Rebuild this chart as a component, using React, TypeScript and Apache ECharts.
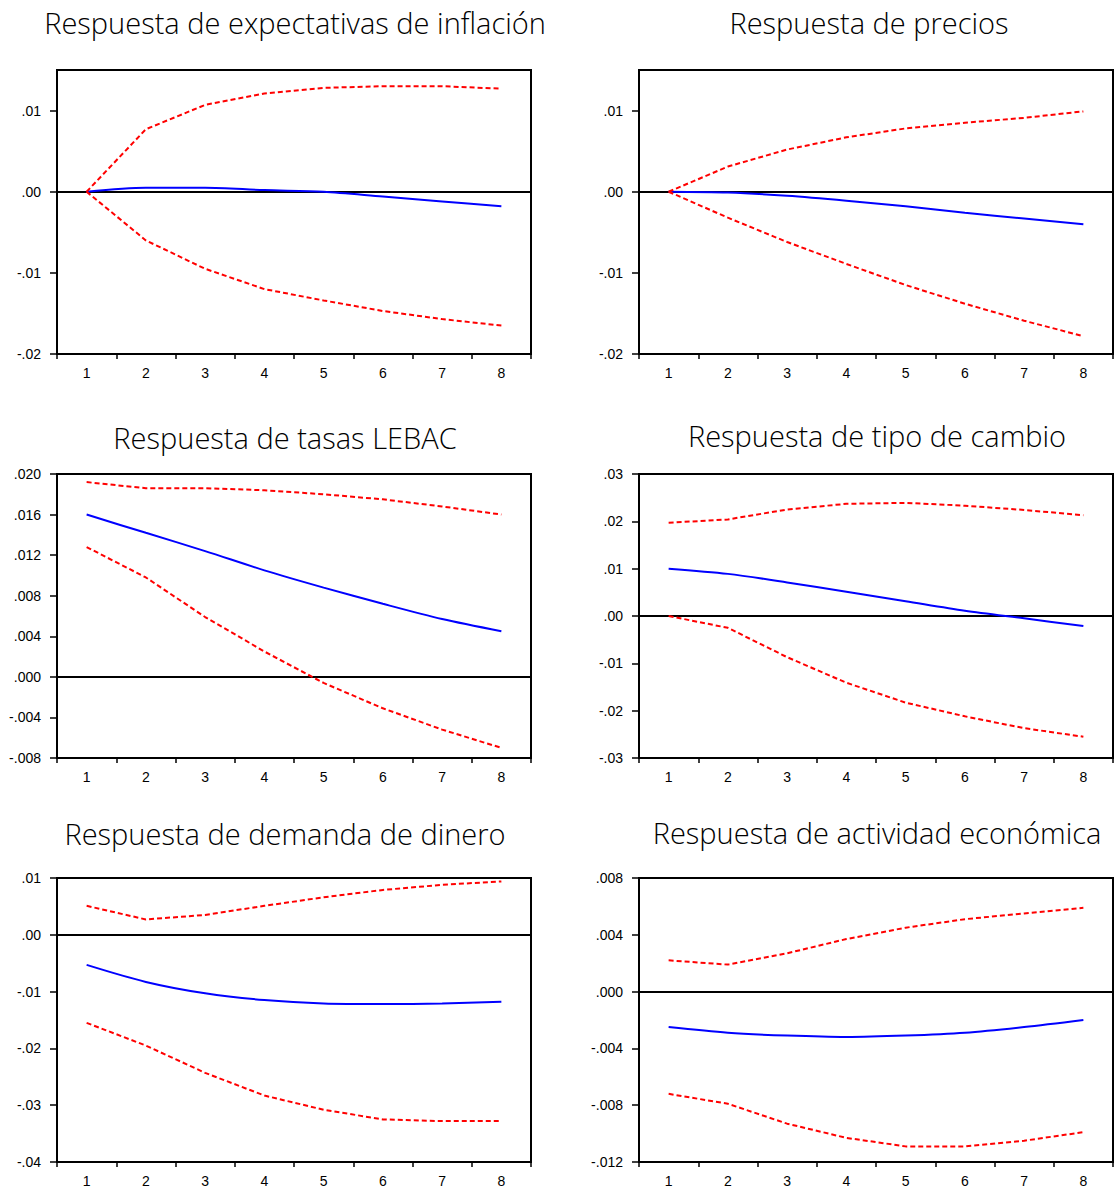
import React, { useEffect, useRef } from "react";
import * as echarts from "echarts";

const periods = ["1", "2", "3", "4", "5", "6", "7", "8"];

const titles = [
  "Respuesta de expectativas de inflación",
  "Respuesta de precios",
  "Respuesta de tasas LEBAC",
  "Respuesta de tipo de cambio",
  "Respuesta de demanda de dinero",
  "Respuesta de actividad económica",
];

// Panel 1: expectativas de inflación
const inflResp = [0, 0.0005, 0.0005, 0.0002, 0.0, -0.0006, -0.0012, -0.0018];
const inflUpper = [0, 0.0077, 0.0107, 0.0121, 0.0128, 0.013, 0.013, 0.0127];
const inflLower = [0, -0.006, -0.0095, -0.012, -0.0134, -0.0147, -0.0157, -0.0165];

// Panel 2: precios
const precResp = [0, -0.0001, -0.0005, -0.0011, -0.0018, -0.0026, -0.0033, -0.004];
const precUpper = [0, 0.0031, 0.0052, 0.0067, 0.0078, 0.0085, 0.0091, 0.0099];
const precLower = [0, -0.0032, -0.0062, -0.0089, -0.0115, -0.0138, -0.0159, -0.0178];

// Panel 3: tasas LEBAC
const lebacResp = [0.016, 0.0142, 0.0124, 0.0105, 0.0088, 0.0072, 0.0057, 0.0045];
const lebacUpper = [0.0192, 0.0186, 0.0186, 0.0184, 0.018, 0.0175, 0.0168, 0.016];
const lebacLower = [0.0128, 0.0098, 0.0059, 0.0025, -0.0006, -0.0031, -0.0052, -0.007];

// Panel 4: tipo de cambio
const tcResp = [0.01, 0.0089, 0.0071, 0.0051, 0.0031, 0.0011, -0.0005, -0.0021];
const tcUpper = [0.0197, 0.0204, 0.0225, 0.0237, 0.0239, 0.0233, 0.0224, 0.0213];
const tcLower = [0.0, -0.0025, -0.0087, -0.0141, -0.0183, -0.0212, -0.0237, -0.0255];

// Panel 5: demanda de dinero
const dinResp = [-0.0053, -0.0083, -0.0103, -0.0115, -0.0121, -0.0122, -0.0121, -0.0118];
const dinUpper = [0.0051, 0.0027, 0.0035, 0.0051, 0.0066, 0.0079, 0.0088, 0.0094];
const dinLower = [-0.0155, -0.0195, -0.0243, -0.0283, -0.0308, -0.0325, -0.0328, -0.0328];

// Panel 6: actividad económica
const actResp = [-0.0025, -0.0029, -0.0031, -0.0032, -0.0031, -0.0029, -0.0025, -0.002];
const actUpper = [0.0022, 0.0019, 0.0027, 0.0037, 0.0045, 0.0051, 0.0055, 0.0059];
const actLower = [-0.0072, -0.0079, -0.0093, -0.0103, -0.0109, -0.0109, -0.0105, -0.0099];

// y-axis tick labels per panel
const yTicks1 = [-0.02, -0.01, 0, 0.01];
const yTicks2 = [-0.02, -0.01, 0, 0.01];
const yTicks3 = [-0.008, -0.004, 0, 0.004, 0.008, 0.012, 0.016, 0.02];
const yTicks4 = [-0.03, -0.02, -0.01, 0, 0.01, 0.02, 0.03];
const yTicks5 = [-0.04, -0.03, -0.02, -0.01, 0, 0.01];
const yTicks6 = [-0.012, -0.008, -0.004, 0, 0.004, 0.008];

const panels = [
  { resp: inflResp, up: inflUpper, lo: inflLower, ticks: yTicks1, min: -0.02, max: 0.015, dec: 2 },
  { resp: precResp, up: precUpper, lo: precLower, ticks: yTicks2, min: -0.02, max: 0.015, dec: 2 },
  { resp: lebacResp, up: lebacUpper, lo: lebacLower, ticks: yTicks3, min: -0.008, max: 0.02, dec: 3 },
  { resp: tcResp, up: tcUpper, lo: tcLower, ticks: yTicks4, min: -0.03, max: 0.03, dec: 2 },
  { resp: dinResp, up: dinUpper, lo: dinLower, ticks: yTicks5, min: -0.04, max: 0.01, dec: 2 },
  { resp: actResp, up: actUpper, lo: actLower, ticks: yTicks6, min: -0.012, max: 0.008, dec: 3 },
];

const layout = [
  { left: 57, top: 70, titleX: 295, titleY: 22 },
  { left: 639, top: 70, titleX: 869, titleY: 22 },
  { left: 57, top: 474, titleX: 285, titleY: 437 },
  { left: 639, top: 474, titleX: 877, titleY: 435 },
  { left: 57, top: 878, titleX: 285, titleY: 833 },
  { left: 639, top: 878, titleX: 877, titleY: 832 },
];

function fmt(v: number, dec: number) {
  let s = Math.abs(v).toFixed(dec);
  s = s.replace(/^0/, "");
  return (v < -1e-12 ? "-" : "") + s;
}

export default function App() {
  const ref = useRef<HTMLDivElement>(null);
  useEffect(() => {
    if (!ref.current) return;
    const chart = echarts.init(ref.current, null, { renderer: "svg" });
    const grid: any[] = [];
    const xAxis: any[] = [];
    const yAxis: any[] = [];
    const series: any[] = [];
    const graphic: any[] = [];
    panels.forEach((p, i) => {
      const L = layout[i];
      grid.push({
        left: L.left,
        top: L.top,
        width: 474,
        height: 284,
        show: true,
        borderColor: "#000",
        borderWidth: 2,
        backgroundColor: "transparent",
      });
      xAxis.push({
        type: "category",
        gridIndex: i,
        data: periods,
        boundaryGap: true,
        axisLine: { onZero: false, lineStyle: { color: "#000", width: 2 } },
        axisTick: { show: true, length: 5, lineStyle: { color: "#000", width: 1.5 } },
        axisLabel: { color: "#000", fontFamily: "Liberation Sans", fontSize: 14, margin: 12 },
        splitLine: { show: false },
      });
      yAxis.push({
        type: "value",
        gridIndex: i,
        min: p.min,
        max: p.max,
        axisLine: { show: true, onZero: false, lineStyle: { color: "#000", width: 2 } },
        axisTick: { show: true, length: 7, lineStyle: { color: "#000", width: 1.5 }, customValues: p.ticks },
        axisLabel: {
          color: "#000",
          fontFamily: "Liberation Sans",
          fontSize: 14,
          margin: 16,
          customValues: p.ticks,
          formatter: (v: number) => fmt(v, p.dec),
        },
        splitLine: { show: false },
      });
      series.push({
        type: "line",
        xAxisIndex: i,
        yAxisIndex: i,
        data: p.up,
        symbol: "none",
        lineStyle: { color: "#ff0000", width: 2, type: [5, 3] },
        z: 3,
      });
      series.push({
        type: "line",
        xAxisIndex: i,
        yAxisIndex: i,
        data: p.lo,
        symbol: "none",
        lineStyle: { color: "#ff0000", width: 2, type: [5, 3] },
        z: 3,
      });
      series.push({
        type: "line",
        xAxisIndex: i,
        yAxisIndex: i,
        data: p.resp,
        symbol: "none",
        smooth: 0.3,
        lineStyle: { color: "#0000ff", width: 2, type: "solid" },
        z: 2,
        markLine: {
          silent: true,
          symbol: "none",
          label: { show: false },
          lineStyle: { color: "#000", width: 2, type: "solid" },
          data: [{ yAxis: 0 }],
          z: 1,
        },
      });
      graphic.push({
        type: "text",
        x: L.titleX,
        y: L.titleY,
        style: {
          text: titles[i],
          fontFamily: "Open Sans",
          fontWeight: 300,
          fontSize: 29,
          fill: "#000",
          textAlign: "center",
          textVerticalAlign: "middle",
        },
      });
    });
    chart.setOption({
      animation: false,
      backgroundColor: "#fff",
      grid,
      xAxis,
      yAxis,
      series,
      graphic,
    });
    return () => chart.dispose();
  }, []);
  return (
    <div
      ref={ref}
      style={{ position: "absolute", left: 0, top: 0, width: 1115, height: 1191 }}
    />
  );
}
